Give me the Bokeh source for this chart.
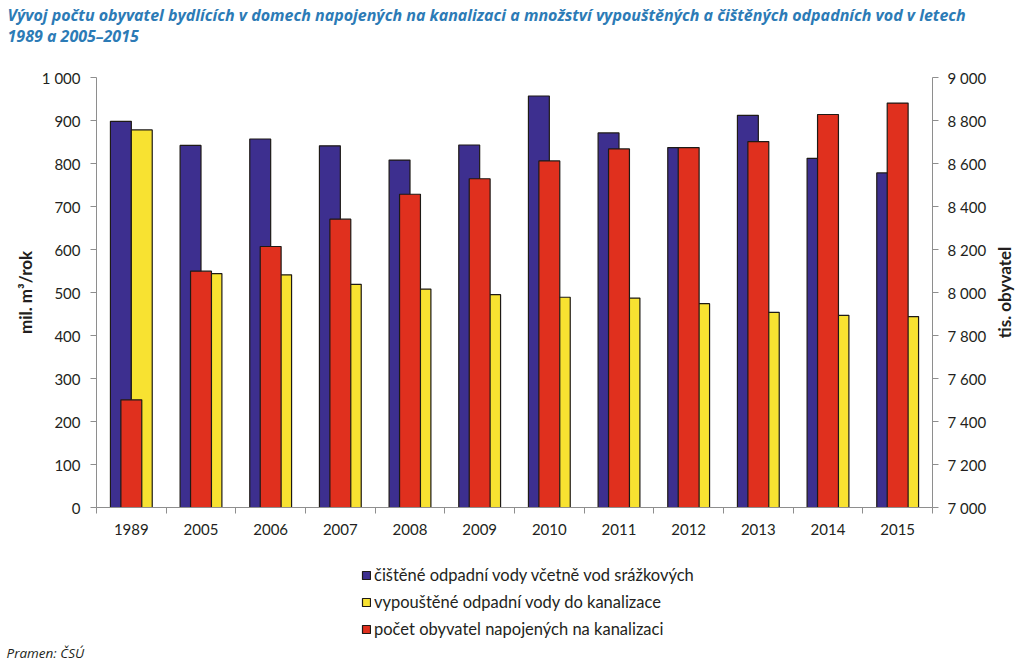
import numpy as np
from bokeh.plotting import figure
from bokeh.models import (Range1d, LinearAxis, FixedTicker, ColumnDataSource,
                          Label, Legend, LegendItem)
from bokeh.transform import dodge
from bokeh.embed import file_html
from bokeh.resources import INLINE

# ---------------- data ----------------
years = ["1989", "2005", "2006", "2007", "2008", "2009", "2010",
         "2011", "2012", "2013", "2014", "2015"]
cleaned = [898, 842, 857, 841, 808, 843, 957, 871, 837, 912, 812, 778]        # mil. m3/rok
discharged = [878, 544, 541, 519, 508, 495, 489, 487, 474, 454, 447, 444]    # mil. m3/rok
population = [7501, 8099, 8214, 8341, 8457, 8529, 8612, 8668, 8674, 8702, 8828, 8881]  # tis. obyvatel

left_ticks = [0, 100, 200, 300, 400, 500, 600, 700, 800, 900, 1000]
left_tick_labels = ["0", "100", "200", "300", "400", "500", "600", "700", "800", "900", "1 000"]
right_ticks = [7000, 7200, 7400, 7600, 7800, 8000, 8200, 8400, 8600, 8800, 9000]
right_tick_labels = ["7 000", "7 200", "7 400", "7 600", "7 800", "8 000",
                     "8 200", "8 400", "8 600", "8 800", "9 000"]

title_lines = ["Vývoj počtu obyvatel bydlících v domech napojených na kanalizaci a množství vypouštěných a čištěných odpadních vod v letech",
               "1989 a 2005–2015"]
left_axis_title = "mil. m³/rok"
right_axis_title = "tis. obyvatel"
legend_labels = ["čištěné odpadní vody včetně vod srážkových",
                 "vypouštěné odpadní vody do kanalizace",
                 "počet obyvatel napojených na kanalizaci"]
source_note = "Pramen: ČSÚ"

# ---------------- styles / layout (pixels) ----------------
BLUE = "#3D2F8F"
YELLOW = "#F8E231"
RED = "#E0301E"
EDGE = "#1E1A16"
AXIS = "#8E8E8E"
TXT = "#231F20"
TITLE = "#2C7BB6"
FONT = "Lato"
W, H = 1024, 661
PL, PR, PT, PB = 96, 932, 77, 507        # plot area edges in canvas pixels

n = len(years)
# the frame spans the whole canvas; map the plot area onto the wanted pixels
ux = n / (PR - PL)
x0, x1 = -0.5 - PL * ux, n - 0.5 + (W - PR) * ux
uy = (left_ticks[-1] - left_ticks[0]) / (PB - PT)
y0, y1 = left_ticks[0] - (H - PB) * uy, left_ticks[-1] + PT * uy
uz = (right_ticks[-1] - right_ticks[0]) / (PB - PT)
z0, z1 = right_ticks[0] - (H - PB) * uz, right_ticks[-1] + PT * uz

src = ColumnDataSource(dict(x=list(range(n)), cleaned=cleaned,
                            discharged=discharged, population=population))

p = figure(width=W, height=H, x_range=Range1d(x0, x1), y_range=Range1d(y0, y1),
           output_backend="svg", toolbar_location=None, min_border=0)
p.extra_y_ranges = {"pop": Range1d(z0, z1)}
p.outline_line_color = None
p.xgrid.visible = False
p.ygrid.visible = False

r_blue = p.vbar(x=dodge("x", -0.15), width=0.3, top="cleaned", bottom=left_ticks[0], source=src,
                fill_color=BLUE, line_color=EDGE, line_width=1.2)
r_yel = p.vbar(x=dodge("x", 0.15), width=0.3, top="discharged", bottom=left_ticks[0], source=src,
               fill_color=YELLOW, line_color=EDGE, line_width=1.2)
r_red = p.vbar(x="x", width=0.3, top="population", bottom=right_ticks[0], source=src,
               y_range_name="pop", fill_color=RED, line_color=EDGE, line_width=1.2)

# x axis: labels at category centres, ticks at category boundaries
xa = p.xaxis[0]
xa.fixed_location = left_ticks[0]
xa.bounds = (-0.5, n - 0.5)
xa.ticker = FixedTicker(ticks=list(range(n)), minor_ticks=[i - 0.5 for i in range(n + 1)])
xa.major_label_overrides = {i: y for i, y in enumerate(years)}
xa.major_tick_in = 0
xa.major_tick_out = 0
xa.minor_tick_in = 0
xa.minor_tick_out = 6
xa.minor_tick_line_color = AXIS
xa.axis_line_color = AXIS
xa.major_label_standoff = 10
xa.major_label_text_font = FONT
xa.major_label_text_font_size = "15px"
xa.major_label_text_color = TXT

ya = p.yaxis[0]
ya.fixed_location = -0.5
ya.bounds = (left_ticks[0], left_ticks[-1])
ya.ticker = FixedTicker(ticks=left_ticks, minor_ticks=[])
ya.major_label_overrides = {t: l for t, l in zip(left_ticks, left_tick_labels)}
ya.axis_label = left_axis_title

ra = LinearAxis(y_range_name="pop", fixed_location=n - 0.5,
                bounds=(right_ticks[0], right_ticks[-1]),
                ticker=FixedTicker(ticks=right_ticks, minor_ticks=[]),
                major_label_overrides={t: l for t, l in zip(right_ticks, right_tick_labels)})
p.add_layout(ra, "right")

for a in (ya, ra):
    a.axis_line_color = AXIS
    a.major_tick_line_color = AXIS
    a.major_tick_in = 0
    a.major_tick_out = 6
    a.minor_tick_in = 0
    a.minor_tick_out = 0
    a.major_label_text_font = FONT
    a.major_label_text_font_size = "15px"
    a.major_label_text_color = TXT
ya.axis_label_text_font = FONT
ya.axis_label_text_font_style = "bold"
ya.axis_label_text_font_size = "17px"
ya.axis_label_text_color = TXT
ya.major_label_standoff = 10
ya.axis_label_standoff = 3
ra.major_label_standoff = 9

# right axis title, reading bottom-to-top like the left one
p.add_layout(Label(x=1004, y=H - (PT + PB) / 2, x_units="screen", y_units="screen",
                   text=right_axis_title, angle=np.pi / 2, text_font=FONT,
                   text_font_style="bold", text_font_size="17px", text_color=TXT,
                   text_align="center", text_baseline="middle"))

# title (two lines) - screen units from the canvas bottom-left
for i, line in enumerate(title_lines):
    p.add_layout(Label(x=7, y=H - 14 - 21 * i, x_units="screen", y_units="screen",
                       text=line, text_font="Open Sans", text_font_style="bold italic",
                       text_font_size="16px", text_color=TITLE,
                       text_baseline="alphabetic", text_align="left"))

p.add_layout(Label(x=6, y=H - 652, x_units="screen", y_units="screen",
                   text=source_note, text_font="Open Sans", text_font_style="italic",
                   text_font_size="13.5px", text_color=TXT, text_baseline="alphabetic"))

legend = Legend(items=[LegendItem(label=legend_labels[0], renderers=[r_blue]),
                       LegendItem(label=legend_labels[1], renderers=[r_yel]),
                       LegendItem(label=legend_labels[2], renderers=[r_red])],
                location=(361, H - 639), orientation="vertical",
                glyph_width=10, glyph_height=10, label_standoff=3,
                label_height=20, spacing=7, padding=0, margin=0,
                border_line_alpha=0, background_fill_alpha=0,
                label_text_font=FONT, label_text_font_size="16.5px",
                label_text_color=TXT)
p.add_layout(legend, "center")

open("out.html", "w").write(file_html(p, INLINE))
